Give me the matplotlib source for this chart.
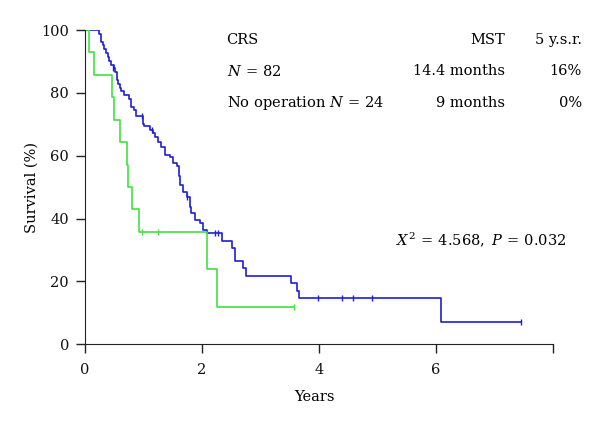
import numpy as np
import matplotlib
matplotlib.use('Agg')
from matplotlib import pyplot as plt

plt.rcParams['font.family'] = ['DejaVu Serif']
plt.rcParams['mathtext.fontset'] = 'dejavuserif'

# CRS group (blue): time of each drop (years) and survival after it (%)
crs_t = [0, 0.24, 0.28, 0.31, 0.33, 0.36, 0.39, 0.41, 0.44, 0.49, 0.51,
         0.54, 0.57, 0.60, 0.62, 0.66, 0.76, 0.79, 0.83, 0.87, 0.99, 1.00,
         1.11, 1.17, 1.20, 1.25, 1.30, 1.37, 1.45, 1.51, 1.57, 1.60, 1.62,
         1.68, 1.74, 1.79, 1.82, 1.88, 1.97, 2.02, 2.08, 2.35, 2.51, 2.56,
         2.70, 2.76, 3.52, 3.62, 3.66, 6.08, 7.45]
crs_s = [100, 98.8, 96.3, 95.1, 93.9, 92.7, 91.5, 90.2, 89.0, 87.8, 86.6,
         84.1, 82.9, 81.7, 80.5, 79.3, 78.0, 75.6, 74.4, 72.5, 70.0, 69.3,
         68.2, 67.1, 66.0, 64.5, 62.9, 60.3, 59.7, 57.6, 56.6, 53.4, 50.7,
         48.6, 47.0, 43.8, 41.7, 39.6, 38.6, 36.4, 35.4, 32.9, 30.6, 26.5,
         24.2, 21.8, 19.4, 17.0, 14.6, 7.2, 7.2]
crs_cens_t = [0.48, 0.97, 1.14, 1.74, 2.22, 2.28, 3.99, 4.39, 4.58, 4.91, 7.45]
crs_cens_s = [87.8, 72.5, 68.2, 47.0, 35.4, 35.4, 14.6, 14.6, 14.6, 14.6, 7.2]

# No operation group (green)
noop_t = [0, 0.07, 0.16, 0.47, 0.50, 0.60, 0.71, 0.74, 0.81, 0.93, 2.09, 2.26, 3.58]
noop_s = [100, 92.9, 85.7, 78.6, 71.4, 64.3, 57.1, 50.0, 42.9, 35.7, 23.8, 11.9, 11.9]
noop_cens_t = [0.98, 1.25, 3.58]
noop_cens_s = [35.7, 35.7, 11.9]

azul = '#1f1fd6'
verde = '#44e044'

fig = plt.figure(figsize=(6, 4.28), dpi=100)
ax = fig.add_axes([85/600, 1-344.3/428, 468/600, 314.3/428])

ax.step(crs_t, crs_s, where='post', color=azul, lw=1.2)
ax.plot(crs_cens_t, crs_cens_s, '|', color=azul, ms=4, mew=1)
ax.step(noop_t, noop_s, where='post', color=verde, lw=1.2)
ax.plot(noop_cens_t, noop_cens_s, '|', color=verde, ms=4, mew=1)

ax.set_xlim(0, 8)
ax.set_ylim(0, 100)
ax.set_xticks([0, 2, 4, 6, 8])
ax.set_xticklabels(['0', '2', '4', '6', ''])
ax.set_yticks([0, 20, 40, 60, 80, 100])
ax.spines['top'].set_visible(False)
ax.spines['right'].set_visible(False)
for s in ['left', 'bottom']:
    ax.spines[s].set_color('#222222')
ax.tick_params(direction='out', length=6.5, width=1, colors='#222222',
               labelsize=10.5, labelcolor='#111111')
ax.tick_params(axis='x', pad=7)
ax.tick_params(axis='y', pad=5)
ax.set_xlabel('Years', fontsize=10.5)
ax.xaxis.set_label_coords(0.49, -0.145)
ax.set_ylabel('Survival (%)', fontsize=10.5, labelpad=2)

fs = 10.5
ax.text(2.42, 96.9, 'CRS', fontsize=fs, va='center', ha='left')
ax.text(7.18, 96.9, 'MST', fontsize=fs, va='center', ha='right')
ax.text(8.49, 96.9, '5 y.s.r.', fontsize=fs, va='center', ha='right', clip_on=False)
ax.text(2.42, 86.8, r'$N\,=\,82$', fontsize=fs, va='center', ha='left')
ax.text(7.18, 86.8, '14.4 months', fontsize=fs, va='center', ha='right')
ax.text(8.49, 86.8, '16%', fontsize=fs, va='center', ha='right', clip_on=False)
ax.text(2.42, 76.8, r'No operation $N\,=\,24$', fontsize=fs, va='center', ha='left')
ax.text(7.18, 76.8, '9 months', fontsize=fs, va='center', ha='right')
ax.text(8.49, 76.8, '0%', fontsize=fs, va='center', ha='right', clip_on=False)
ax.text(8.23, 33.2, r'$X^2\,=\,4.568,\ P\,=\,0.032$', fontsize=fs, va='center', ha='right')

fig.savefig('out.png', dpi=100)
